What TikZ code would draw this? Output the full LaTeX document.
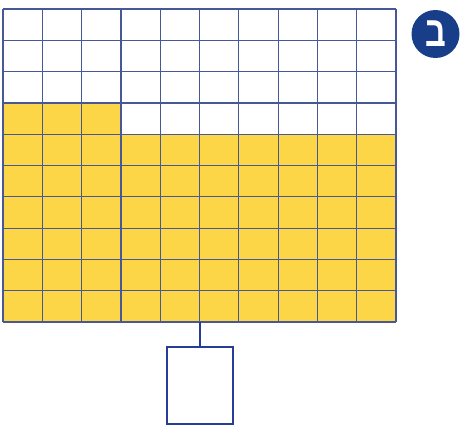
\documentclass[tikz,border=0pt]{standalone}
\usepackage{graphicx}
\usepackage{fontspec}
\newfontfamily\hebfont[Script=Hebrew]{Liberation Sans}
\TeXXeTstate=1
\definecolor{gridblue}{RGB}{70,88,150}
\definecolor{fillyel}{RGB}{253,214,72}
\definecolor{badgeblue}{RGB}{24,62,138}
\definecolor{boxblue}{RGB}{40,60,150}
\tikzset{
  cellline/.style={draw=gridblue, line width=1.2pt},
  answerbox/.style={draw=boxblue, line width=2.4pt, minimum width=66pt, minimum height=77pt, inner sep=0pt, fill=white},
  badge/.style={circle, fill=badgeblue, minimum size=48pt, inner sep=0pt, text=white},
  stem/.style={draw=boxblue, line width=1.8pt}
}
\newcommand{\badgetext}[1]{\scalebox{0.9}[1.18]{\hebfont\bfseries\fontsize{36}{36}\selectfont\beginR #1\endR}}
\begin{document}
\begin{tikzpicture}[x=1pt,y=-1pt]
\useasboundingbox (0,0) rectangle (462,428);
% geometry
\def\gl{3}\def\gt{9}\def\cw{39.3}\def\rh{31.3}
% yellow fill: row 4 first 3 cells, rows 5-10
\fill[fillyel] (\gl,{\gt+3*\rh}) rectangle ({\gl+3*\cw},{\gt+4*\rh});
\fill[fillyel] (\gl,{\gt+4*\rh}) rectangle ({\gl+10*\cw},{\gt+10*\rh});
% grid lines
\foreach \i in {0,...,10} {
  \draw[cellline] ({\gl+\i*\cw},\gt) -- ({\gl+\i*\cw},{\gt+10*\rh});
  \draw[cellline] (\gl,{\gt+\i*\rh}) -- ({\gl+10*\cw},{\gt+\i*\rh});
}
\coordinate (gridbottom) at (200,{\gt+10*\rh});
\node[answerbox] (box) at (200,385.5) {};
\draw[stem] (gridbottom) -- (box.north);
\node[badge] (badge) at (435.5,34) {\badgetext{ב}};
\end{tikzpicture}
\end{document}
